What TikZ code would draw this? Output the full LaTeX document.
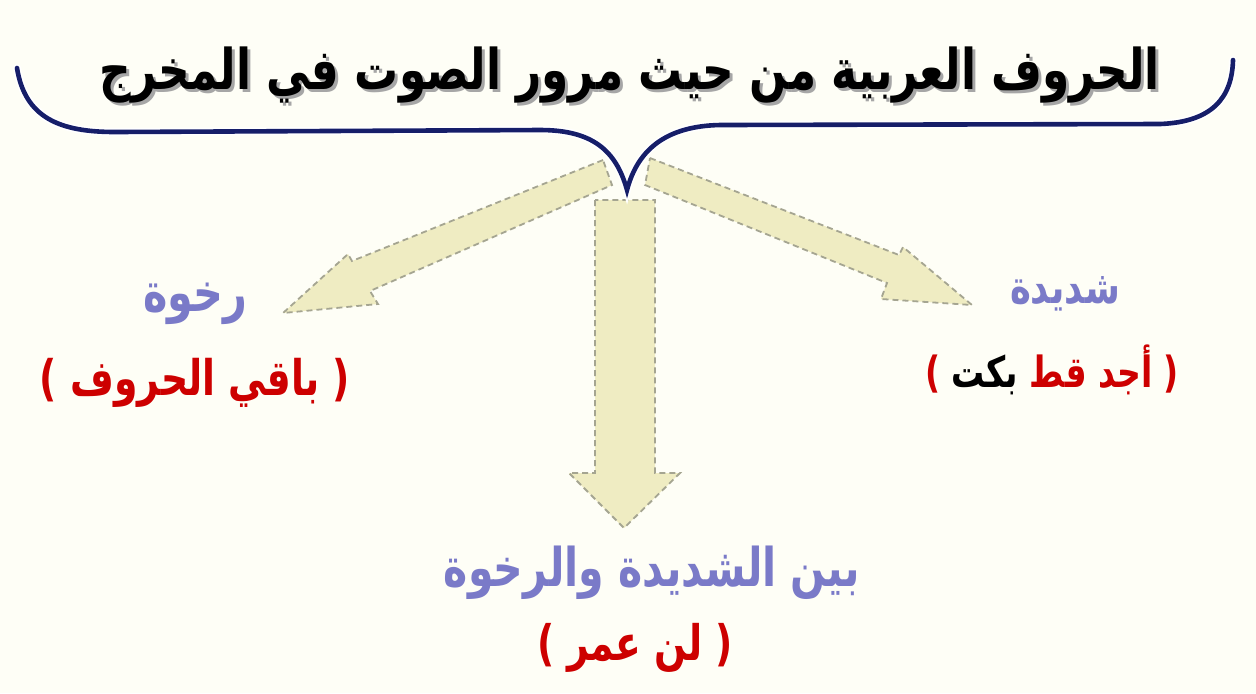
\documentclass[tikz,border=0pt]{standalone}
\usepackage{fontspec}
\usepackage{graphicx}
\newfontfamily\arabicfont[Script=Arabic]{DejaVu Sans}
\newfontfamily\parfont{DejaVu Sans}
\TeXXeTstate=1
\newcommand{\fitw}[3]{\scalebox{1}[#2]{\resizebox{#1}{!}{#3}}}
\newcommand{\lp}{{\parfont\bfseries(}}
\newcommand{\rp}{{\parfont\bfseries)}}
\definecolor{bgcream}{RGB}{254,254,246}
\definecolor{bracenavy}{RGB}{22,30,105}
\definecolor{arrowfill}{RGB}{239,236,194}
\definecolor{arrowedge}{RGB}{165,165,145}
\definecolor{lblpurple}{RGB}{122,122,200}
\definecolor{lblred}{RGB}{205,0,0}
\begin{document}
\begin{tikzpicture}[x=0.5pt,y=-0.5pt,
  txt/.style={inner sep=0pt,font=\arabicfont\bfseries},
  blockarrow/.style={fill=arrowfill,draw=arrowedge,densely dashed,line width=0.9pt,line join=miter},
  bracestroke/.style={draw=bracenavy,line width=2.3pt,line cap=round}]
\useasboundingbox (0,0) rectangle (1256,693);
\fill[bgcream] (0,0) rectangle (1256,693);

% block arrows
\draw[blockarrow] (603,160) -- (352,261) -- (348,254) -- (283,313) -- (378,304) -- (370,291) -- (612,185) -- cycle;
\draw[blockarrow] (650,158) -- (899,255) -- (903,247) -- (972,305) -- (881,299) -- (887,283) -- (645,185) -- cycle;
\draw[blockarrow] (595,200) -- (595,473) -- (569,473) -- (624,528) -- (680,473) -- (655,473) -- (655,200) -- cycle;

% brace
\coordinate (bl) at (17,68);
\coordinate (btip) at (627,190);
\coordinate (br) at (1233,60);
\draw[white,line width=4pt,line cap=round] (bl) .. controls (25,118) and (60,132) .. (115,132) -- (540,130) .. controls (592,130) and (616,150) .. (btip) .. controls (638,148) and (668,126) .. (720,125) -- (1160,124) .. controls (1212,122) and (1232,98) .. (br);
\draw[bracestroke] (bl) .. controls (25,118) and (60,132) .. (115,132) -- (540,130) .. controls (592,130) and (616,150) .. (btip) .. controls (638,148) and (668,126) .. (720,125) -- (1160,124) .. controls (1212,122) and (1232,98) .. (br);

% title
\node[txt,text=black!35] (titleshadow) at (633,78) {\fitw{530pt}{1.28}{\beginR الحروف العربية من حيث مرور الصوت في المخرج\endR}};
\node[txt,text=black] (title) at (630,75) {\fitw{530pt}{1.28}{\beginR الحروف العربية من حيث مرور الصوت في المخرج\endR}};

% labels
\node[txt,text=lblpurple] (rikhwa) at (195,304) {\fitw{52pt}{1.3}{\beginR رخوة\endR}};
\node[txt,text=lblred] (rikhwaex) at (195,383) {\fitw{155pt}{1.3}{\lp\ \beginR باقي الحروف\endR\ \rp}};
\node[txt,text=lblpurple] (shadida) at (1065,294) {\fitw{55pt}{1.3}{\beginR شديدة\endR}};
\node[txt] (shadidaex) at (1052,370) {\fitw{127pt}{1.3}{\textcolor{lblred}{\lp}\ \textcolor{black}{\beginR بكت\endR}\ \textcolor{lblred}{\beginR أجد قط\endR}\ \textcolor{lblred}{\rp}}};
\node[txt,text=lblpurple] (bayn) at (652,573) {\fitw{208pt}{1.3}{\beginR بين الشديدة والرخوة\endR}};
\node[txt,text=lblred] (baynex) at (635,648) {\fitw{98pt}{1.3}{\lp\ \beginR لن عمر\endR\ \rp}};
\end{tikzpicture}
\end{document}
